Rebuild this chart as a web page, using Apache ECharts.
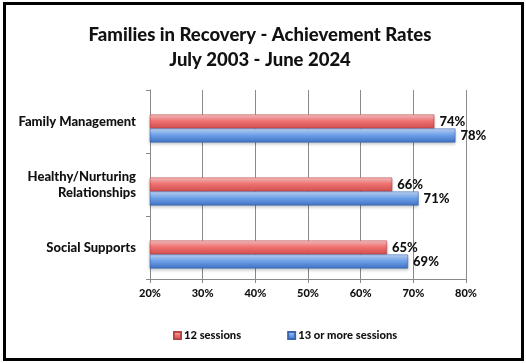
<!DOCTYPE html>
<html>
<head>
<meta charset="utf-8">
<script src="https://cdn.jsdelivr.net/npm/echarts@6/dist/echarts.min.js"></script>
<style>
html,body{margin:0;padding:0;background:#fff;}
#chart{width:526px;height:363px;}
</style>
</head>
<body>
<div id="chart"></div>
<script>
var categories = ['Family Management', 'Healthy/Nurturing\nRelationships', 'Social Supports'];
var sessions12 = [74, 66, 65];
var sessions13plus = [78, 71, 69];
var xTicks = [20, 30, 40, 50, 60, 70, 80];
var spacer = [null, null, null];

var FONT = 'Lato';
var W = 900;
var chart = echarts.init(document.getElementById('chart'), null, {renderer: 'canvas'});

function grad(top, mid, bot) {
  return new echarts.graphic.LinearGradient(0, 0, 0, 1, [
    {offset: 0, color: top}, {offset: 0.45, color: mid}, {offset: 1, color: bot}
  ]);
}
var redFill = grad('#fcc8c8', '#f07272', '#d04e4e');
var blueFill = grad('#c6dcfa', '#6fa2ea', '#3f70c2');

var labelStyle = {show: true, position: 'right', distance: 5, formatter: '{c}%',
  fontFamily: FONT, fontWeight: W, fontSize: 13, color: '#111'};

chart.setOption({
  animation: false,
  backgroundColor: '#fff',
  title: {
    text: 'Families in Recovery - Achievement Rates\nJuly 2003 - June 2024',
    left: 255, top: 18, textAlign: 'center',
    textStyle: {fontFamily: FONT, fontWeight: W, fontSize: 18.5, color: '#111', lineHeight: 25}
  },
  graphic: [{
    type: 'rect', silent: true,
    shape: {x: 4.5, y: 3.5, width: 518, height: 356},
    style: {fill: 'none', stroke: '#000', lineWidth: 3}
  }],
  legend: {
    data: ['12 sessions', '13 or more sessions'],
    left: 168, top: 325, itemWidth: 7, itemHeight: 7, itemGap: 46,
    icon: 'rect',
    textStyle: {fontFamily: FONT, fontWeight: W, fontSize: 11.2, color: '#111', padding: [0,0,0,-2]}
  },
  grid: {left: 150, right: 60, top: 90, bottom: 84, containLabel: false},
  xAxis: {
    type: 'value', min: 20, max: 80, interval: 10,
    axisLine: {show: true, lineStyle: {color: '#8a8a8a'}},
    axisTick: {show: true, length: 4, lineStyle: {color: '#8a8a8a'}},
    splitLine: {show: true, lineStyle: {color: '#8a8a8a'}},
    axisLabel: {formatter: function (v) { return xTicks.indexOf(v) >= 0 ? v + '%' : ''; },
      fontFamily: FONT, fontWeight: W, fontSize: 11, color: '#111', margin: 9}
  },
  yAxis: {
    type: 'category', data: categories, inverse: true,
    axisLine: {show: true, lineStyle: {color: '#8a8a8a'}},
    axisTick: {show: true, length: 4, lineStyle: {color: '#8a8a8a'}},
    axisLabel: {fontFamily: FONT, fontWeight: W, fontSize: 13, color: '#111', margin: 14,
      lineHeight: 16, align: 'right'}
  },
  series: [
    {name: 'spacer', type: 'bar', data: spacer, barWidth: 14, barGap: '0%', silent: true,
      itemStyle: {color: 'rgba(0,0,0,0)'}, label: {show: false}},
    {name: '12 sessions', type: 'bar', data: sessions12, barWidth: 14, barGap: '0%',
      itemStyle: {color: redFill, borderColor: '#b84444', borderWidth: 0.6,
        shadowColor: 'rgba(0,0,0,0.25)', shadowBlur: 3, shadowOffsetY: 2},
      label: labelStyle},
    {name: '13 or more sessions', type: 'bar', data: sessions13plus, barWidth: 14, barGap: '0%',
      itemStyle: {color: blueFill, borderColor: '#3a66b0', borderWidth: 0.6,
        shadowColor: 'rgba(0,0,0,0.25)', shadowBlur: 3, shadowOffsetY: 2},
      label: labelStyle}
  ]
});
</script>
</body>
</html>
